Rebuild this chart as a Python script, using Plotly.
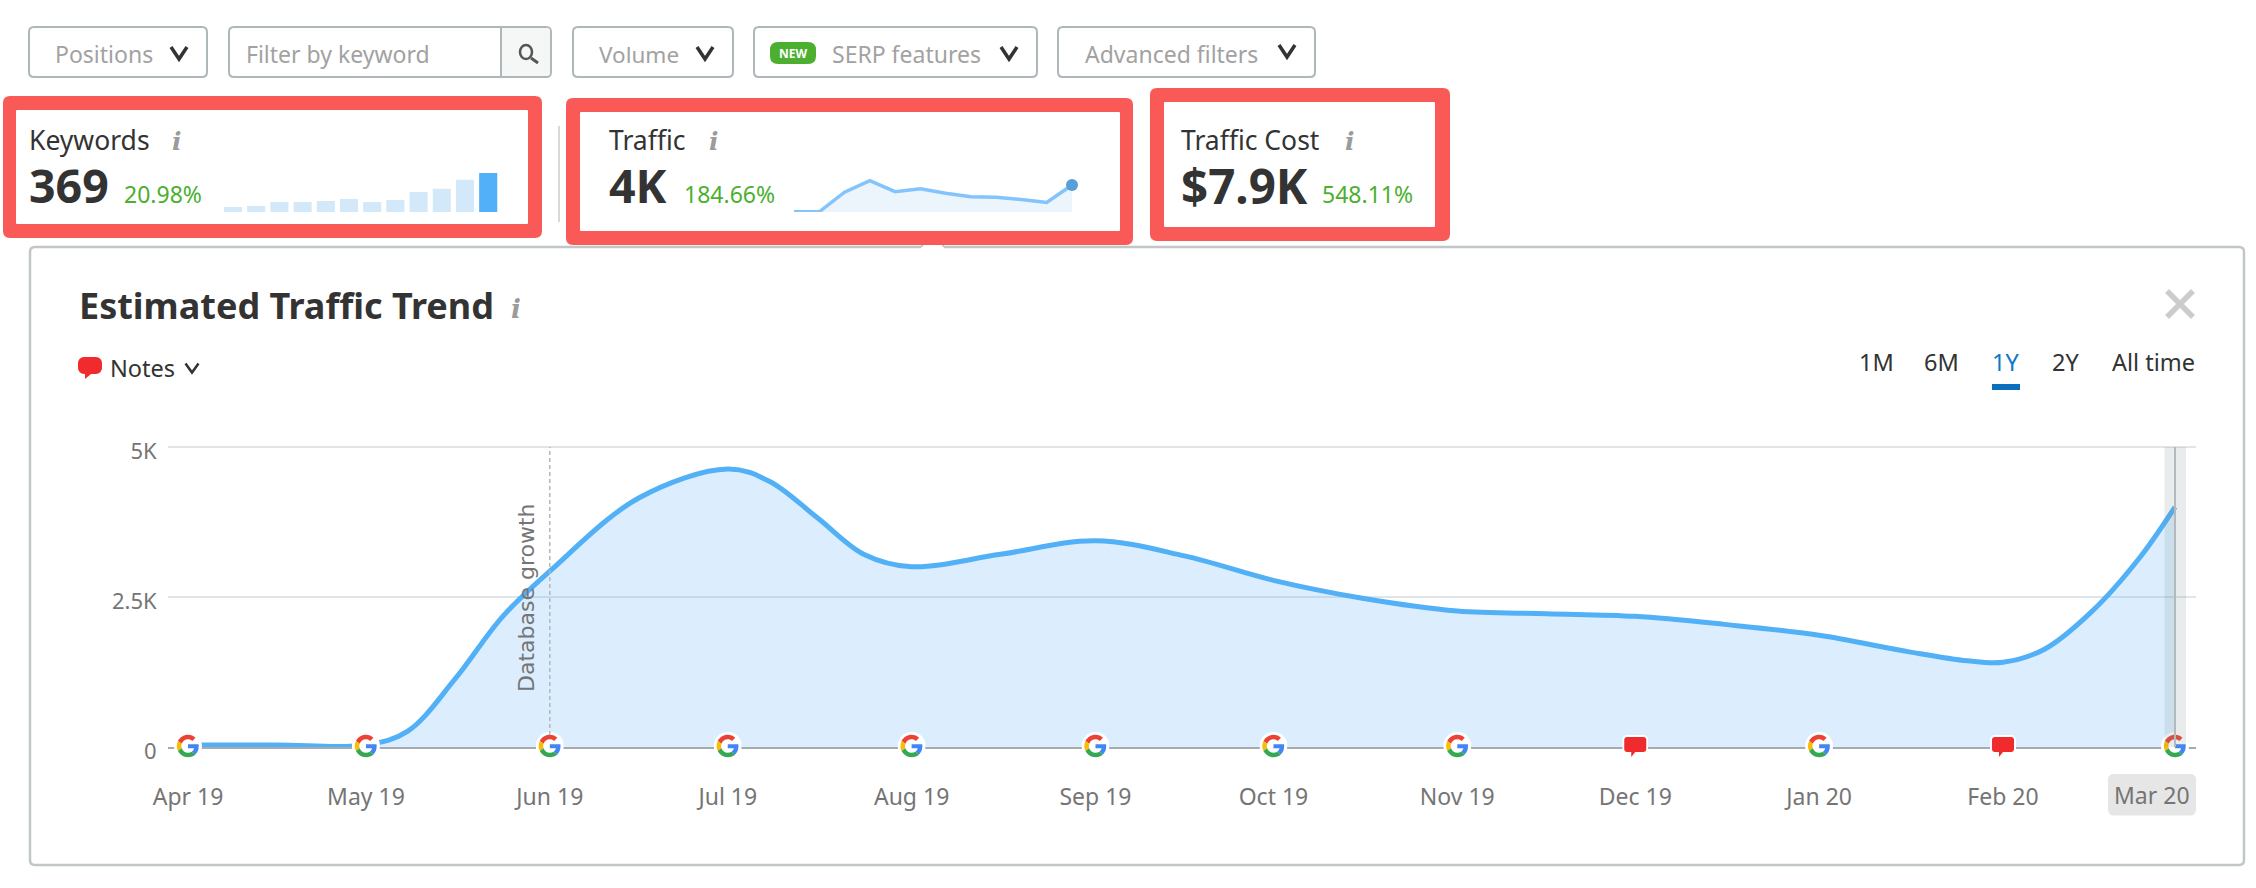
import base64
from datetime import datetime, timedelta
import plotly.graph_objects as go

W, H = 2256, 888
FONT = "Noto Sans"

months = ["2019-04-01", "2019-05-01", "2019-06-01", "2019-07-01", "2019-08-01", "2019-09-01",
          "2019-10-01", "2019-11-01", "2019-12-01", "2020-01-01", "2020-02-01", "2020-03-01"]
month_labels = ["Apr 19", "May 19", "Jun 19", "Jul 19", "Aug 19", "Sep 19",
                "Oct 19", "Nov 19", "Dec 19", "Jan 20", "Feb 20", "Mar 20"]
traffic_values = [35, 35, 2930, 4633, 3005, 3438, 2778, 2267, 2178, 1862, 1412, 4000]
keyword_values = [47, 57, 95, 95, 104, 123, 95, 114, 189, 221, 305, 369]
# readings taken along the drawn trend curve
curve_dates = ["2019-04-01", "2019-04-16", "2019-05-01", "2019-05-08", "2019-05-16", "2019-05-24",
               "2019-06-01", "2019-06-16", "2019-07-01", "2019-07-08", "2019-07-16", "2019-07-24",
               "2019-08-01", "2019-08-16", "2019-09-01", "2019-09-16", "2019-10-01", "2019-10-16",
               "2019-11-01", "2019-11-16", "2019-12-01", "2019-12-16", "2020-01-01", "2020-01-16",
               "2020-01-26", "2020-02-01", "2020-02-08", "2020-02-16", "2020-02-24", "2020-03-01"]
curve_values = [35, 35, 35, 260, 1130, 2170,
                2930, 4150, 4633, 4430, 3830, 3210,
                3005, 3212, 3438, 3185, 2778, 2480,
                2267, 2222, 2178, 2044, 1862, 1590,
                1437, 1412, 1630, 2260, 3150, 4000]
google_months = ["2019-04-01", "2019-05-01", "2019-06-01", "2019-07-01", "2019-08-01", "2019-09-01",
                 "2019-10-01", "2019-11-01", "2020-01-01", "2020-03-01"]
note_months = ["2019-12-01", "2020-02-01"]
y_ticks = [0, 2500, 5000]
y_tick_labels = ["0", "2.5K", "5K"]


def px(x):
    return x / W


def py(y):
    return 1 - y / H


def rr(x0, y0, x1, y1, r):
    pts = [("M", x0 + r, y0), ("L", x1 - r, y0), ("Q", x1, y0, x1, y0 + r), ("L", x1, y1 - r),
           ("Q", x1, y1, x1 - r, y1), ("L", x0 + r, y1), ("Q", x0, y1, x0, y1 - r), ("L", x0, y0 + r),
           ("Q", x0, y0, x0 + r, y0)]
    out = []
    for p in pts:
        nums = p[1:]
        coords = []
        for i in range(0, len(nums), 2):
            coords.append(f"{px(nums[i]):.6f},{py(nums[i + 1]):.6f}")
        out.append(p[0] + " ".join(coords))
    return " ".join(out) + " Z"


def polyline(points):
    return "M" + " L".join(f"{px(a):.6f},{py(b):.6f}" for a, b in points)


shapes = []


def box(x0, y0, x1, y1, r=4, line=None, lw=0, fill="rgba(0,0,0,0)", layer="below"):
    shapes.append(dict(type="path", xref="paper", yref="paper", path=rr(x0, y0, x1, y1, r),
                       line=dict(color=line or "rgba(0,0,0,0)", width=lw), fillcolor=fill, layer=layer))


def stroke(points, color, width, layer="below", dash=None):
    shapes.append(dict(type="path", xref="paper", yref="paper", path=polyline(points),
                       line=dict(color=color, width=width, dash=dash or "solid"), layer=layer))


def chevron(cx, cy, hw=8, hh=6, color="#333333", width=3.5):
    stroke([(cx - hw, cy - hh), (cx, cy + hh), (cx + hw, cy - hh)], color, width)


annotations = []


def text(x, y, s, size, color="#333333", anchor="left", font=FONT, angle=0):
    annotations.append(dict(xref="paper", yref="paper", x=px(x), y=py(y), text=s, showarrow=False,
                            xanchor=anchor, yanchor="middle", textangle=angle, borderpad=0, align="left",
                            font=dict(family=font, size=size, color=color)))


def info(x, y, size=25):
    text(x, y, "<b><i>i</i></b>", size, "#9b9b9b", "center", "DejaVu Serif")


# filter bar
BORDER = "#aeb7b9"
GREY_TXT = "#a2a2a2"
for x0, x1 in [(29, 207), (229, 551), (573, 733), (754, 1037), (1058, 1315)]:
    box(x0, 27, x1, 77, 5, BORDER, 2)
box(501, 28, 550, 76, 3, None, 0, "#f5f7f6")
stroke([(501, 27), (501, 77)], BORDER, 2)
text(54, 54, "Positions", 23, GREY_TXT)
chevron(179, 53)
text(245, 54, "Filter by keyword", 23, GREY_TXT)
shapes.append(dict(type="circle", xref="paper", yref="paper", x0=px(520), x1=px(532), y0=py(45), y1=py(59),
                   line=dict(color="#555555", width=2.5), fillcolor="rgba(0,0,0,0)", layer="below"))
stroke([(531, 58), (538, 63)], "#555555", 3)
text(598, 54, "Volume", 22.5, GREY_TXT)
chevron(705, 53)
box(770, 42, 816, 64, 8, None, 0, "#4caf2f")
text(793, 53, "<b>NEW</b>", 12, "#ffffff", "center")
text(831, 54, "SERP features", 23, GREY_TXT)
chevron(1009, 53)
text(1084, 54, "Advanced filters", 23, GREY_TXT)
chevron(1287, 51)

# main panel
PANEL = "#c1c6c7"
box(30, 247, 2244, 865, 5, PANEL, 2.5, "#ffffff")
stroke([(921, 247), (944, 247)], "#ffffff", 4)
stroke([(921, 247), (934, 229), (944, 247)], PANEL, 2)

# red frames
RED = "#f95a58"
for ox0, oy0, ox1, oy1, ix0, iy0, ix1, iy1 in [
    (3, 96, 542, 238, 16, 110, 528, 224),
    (566, 98, 1133, 245, 580, 112, 1120, 231),
    (1150, 88, 1450, 241, 1164, 102, 1435, 227),
]:
    box(ox0, oy0, ox1, oy1, 7, None, 0, RED)
    box(ix0, iy0, ix1, iy1, 1, None, 0, "#ffffff")
stroke([(559, 126), (559, 222)], "#cccccc", 1.5)

GREEN = "#4caf2f"
text(28, 140, "Keywords", 26.5)
info(177, 141)
text(28, 185, "<b>369</b>", 46.5)
text(123, 194, "20.98%", 23, GREEN)
text(608, 140, "Traffic", 26.5)
info(714, 141)
text(608, 185, "<b>4K</b>", 46.5)
text(683, 194, "184.66%", 23, GREEN)
text(1180, 140, "Traffic Cost", 26.5)
info(1350, 141)
text(1180, 185, "<b>$7.9K</b>", 47.5)
text(1321, 194, "548.11%", 23, GREEN)

# panel header
text(78, 306, "<b>Estimated Traffic Trend</b>", 36)
info(516, 309, 26)
text(109, 368, "Notes", 23.5)
chevron(192, 368, 6.5, 4.5, "#333333", 2.5)
for label, x0, col in [("1M", 1858, "#333333"), ("6M", 1923, "#333333"), ("1Y", 1991, "#0b78c8"),
                       ("2Y", 2051, "#333333"), ("All time", 2111, "#333333")]:
    text(x0, 362, label, 23.5, col)
box(1992, 384, 2020, 390, 0, None, 0, "#0b6fbb")
stroke([(2167, 291), (2193, 317)], "#cccccc", 5.5)
stroke([(2167, 317), (2193, 291)], "#cccccc", 5.5)

# main chart axes
AX_X0, AX_X1 = 168, 2196
AX_TOP, AX_BOT = 447, 747
PX_PER_DAY = (2175 - 188) / 335
t0 = datetime(2019, 4, 1)
range_start = t0 - timedelta(days=(188 - AX_X0) / PX_PER_DAY)
range_end = t0 + timedelta(days=(AX_X1 - 188) / PX_PER_DAY)


def date_px(d):
    return 188 + (datetime.fromisoformat(d) - t0).total_seconds() / 86400 * PX_PER_DAY


fig = go.Figure()
fig.add_trace(go.Scatter(x=curve_dates, y=curve_values, mode="lines", xaxis="x", yaxis="y",
                         line=dict(color="#52b0f7", width=5, shape="spline", smoothing=1),
                         fill="tozeroy", fillcolor="rgba(82,172,246,0.2)", hoverinfo="skip", showlegend=False))

# Mar 20 highlight and Database growth marker
shapes.append(dict(type="rect", xref="paper", yref="paper", x0=px(2164.5), x1=px(2186), y0=py(AX_BOT), y1=py(AX_TOP),
                   fillcolor="rgba(120,140,150,0.17)", line=dict(width=0), layer="above"))
shapes.append(dict(type="line", xref="x", yref="y", x0=months[-1], x1=months[-1], y0=0, y1=5000,
                   line=dict(color="#b5b9bc", width=2), layer="above"))
shapes.append(dict(type="line", xref="x", yref="y", x0=months[2], x1=months[2], y0=200, y1=5000,
                   line=dict(color="#b4b8ba", width=1.5, dash="4px,3px"), layer="above"))
text(526, 598, "Database growth", 22, "#757575", "center", "DejaVu Sans", -90)

box(2108, 774, 2196, 815.5, 6, None, 0, "#e6e6e6")
text(2152, 795, month_labels[-1], 23, "#757575", "center")

# sparklines
fig.add_trace(go.Bar(x=list(range(len(keyword_values))), y=keyword_values, xaxis="x2", yaxis="y2",
                     marker=dict(color=["#d3e9fa"] * (len(keyword_values) - 1) + ["#52b0f9"], line=dict(width=0)),
                     hoverinfo="skip", showlegend=False))
fig.add_trace(go.Scatter(x=list(range(len(traffic_values))), y=traffic_values, mode="lines", xaxis="x3", yaxis="y3",
                         line=dict(color="#82c4fb", width=3.5), fill="tozeroy", fillcolor="#edf5fc",
                         cliponaxis=False, hoverinfo="skip", showlegend=False))
fig.add_trace(go.Scatter(x=[len(traffic_values) - 1], y=traffic_values[-1:], mode="markers", xaxis="x3", yaxis="y3",
                         marker=dict(color="#579fd6", size=12), cliponaxis=False, hoverinfo="skip", showlegend=False))

# icons
G_SVG = ('<svg xmlns="http://www.w3.org/2000/svg" viewBox="-6 -6 60 60"><circle cx="24" cy="24" r="30" fill="#fff"/>'
         '<path fill="#EA4335" d="M24 9.5c3.54 0 6.71 1.22 9.21 3.6l6.85-6.85C35.9 2.38 30.47 0 24 0 14.62 0 6.51 5.38 2.56 13.22l7.98 6.19C12.43 13.72 17.74 9.5 24 9.5z"/>'
         '<path fill="#4285F4" d="M46.98 24.55c0-1.57-.15-3.09-.38-4.55H24v9.02h12.94c-.58 2.96-2.26 5.48-4.78 7.18l7.73 6c4.51-4.18 7.09-10.36 7.09-17.65z"/>'
         '<path fill="#FBBC05" d="M10.53 28.59c-.48-1.45-.76-2.99-.76-4.59s.27-3.14.76-4.59l-7.98-6.19C.92 16.46 0 20.12 0 24c0 3.88.92 7.54 2.56 10.78l7.97-6.19z"/>'
         '<path fill="#34A853" d="M24 48c6.48 0 11.93-2.13 15.89-5.81l-7.73-6c-2.15 1.45-4.92 2.3-8.16 2.3-6.26 0-11.57-4.22-13.47-9.91l-7.98 6.19C6.51 42.62 14.62 48 24 48z"/></svg>')
NOTE_SVG = ('<svg xmlns="http://www.w3.org/2000/svg" viewBox="0 0 26 26">'
            '<path fill="#fff" d="M5 0h16a5 5 0 0 1 5 5v9a5 5 0 0 1-5 5h-7l-6 7v-7H5a5 5 0 0 1-5-5V5a5 5 0 0 1 5-5z"/>'
            '<path fill="#ef2b2e" d="M5 2h16a3 3 0 0 1 3 3v9a3 3 0 0 1-3 3h-8l-4 5v-5H5a3 3 0 0 1-3-3V5a3 3 0 0 1 3-3z"/></svg>')
NOTE_HEAD_SVG = ('<svg xmlns="http://www.w3.org/2000/svg" viewBox="0 0 24 24">'
                 '<path fill="#ef2b2e" d="M6 1h12a6 6 0 0 1 6 6v5a6 6 0 0 1-6 6h-5l-6 5 0-5H6a6 6 0 0 1-6-6V7a6 6 0 0 1 6-6z"/></svg>')


def uri(svg):
    return "data:image/svg+xml;base64," + base64.b64encode(svg.encode()).decode()


images = []


def icon(svg, cx, cy, size):
    images.append(dict(source=uri(svg), xref="paper", yref="paper", x=px(cx), y=py(cy),
                       sizex=size / W, sizey=size / H, xanchor="center", yanchor="middle",
                       sizing="contain", layer="above"))


for d in google_months:
    icon(G_SVG, date_px(d), 746, 28)
for d in note_months:
    icon(NOTE_SVG, date_px(d), 748, 26)
icon(NOTE_HEAD_SVG, 90, 368, 24)

BAR_STEP = 23.2
fig.update_layout(
    template="none",
    width=W, height=H, autosize=False, margin=dict(l=0, r=0, t=0, b=0, autoexpand=False),
    paper_bgcolor="#ffffff", plot_bgcolor="rgba(0,0,0,0)", showlegend=False,
    font=dict(family=FONT, color="#757575", size=22), bargap=0.22,
    xaxis=dict(domain=[px(AX_X0), px(AX_X1)], type="date", range=[range_start, range_end],
               tickmode="array", tickvals=months[:-1], ticktext=month_labels[:-1], automargin=False,
               showgrid=False, zeroline=False, showline=True, linecolor="#a5abb0", linewidth=2,
               ticks="outside", ticklen=28, tickcolor="rgba(0,0,0,0)", tickfont=dict(size=23, color="#757575")),
    yaxis=dict(domain=[py(AX_BOT), py(AX_TOP - 1)], range=[0, 5017], tickmode="array", tickvals=y_ticks,
               ticktext=y_tick_labels, showgrid=True, gridcolor="#e1e5e8", gridwidth=2, zeroline=False,
               automargin=False, showline=False,
               ticks="outside", ticklen=6, tickcolor="rgba(0,0,0,0)", ticklabelshift=4,
               tickfont=dict(size=22, color="#757575"), anchor="x"),
    xaxis2=dict(domain=[px(221.4), px(221.4 + 12 * BAR_STEP)], range=[-0.5, 11.5], visible=False, anchor="y2"),
    yaxis2=dict(domain=[py(212), py(173)], range=[0, 369], visible=False, anchor="x2"),
    xaxis3=dict(domain=[px(794), px(1072)], range=[0, 11], visible=False, anchor="y3"),
    yaxis3=dict(domain=[py(212), py(172)], range=[0, 5926], visible=False, anchor="x3"),
    shapes=shapes, annotations=annotations, images=images,
)
fig.write_html("out.html", post_script="document.body.style.margin='0';", config={"displayModeBar": False})
